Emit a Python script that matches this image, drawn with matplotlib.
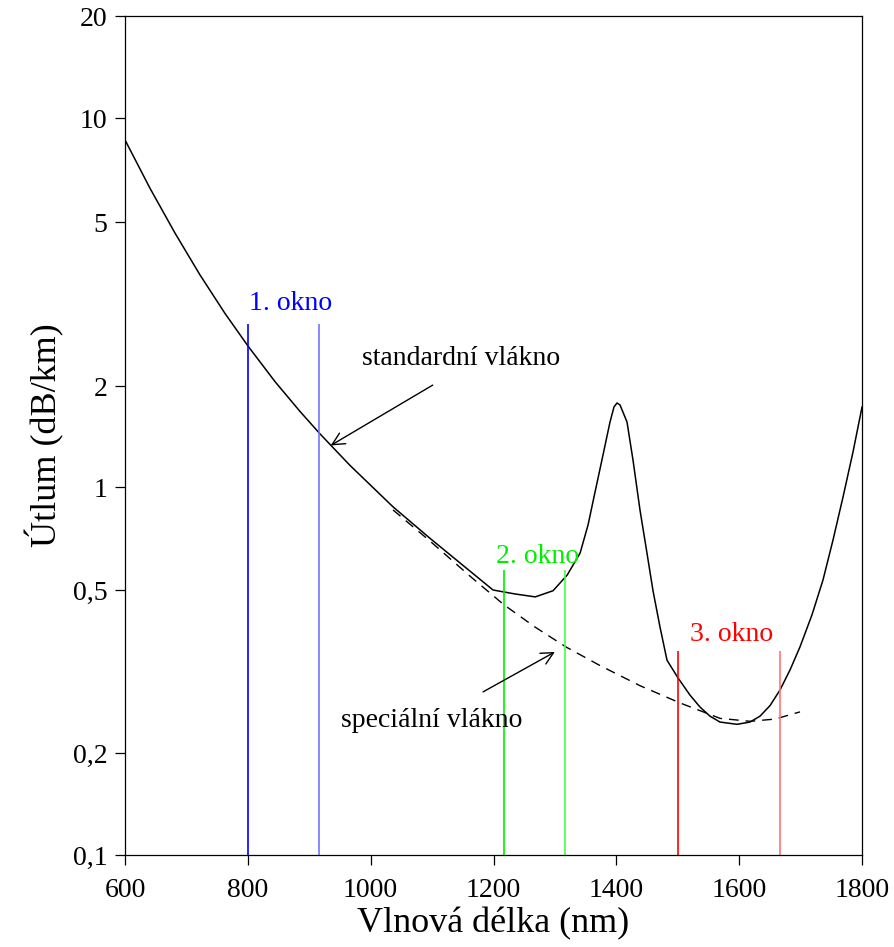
import numpy as np
import matplotlib
matplotlib.use("Agg")
import matplotlib.pyplot as plt
from matplotlib.ticker import FixedLocator, FixedFormatter, NullLocator

plt.rcParams['font.family'] = ['Liberation Serif', 'DejaVu Serif']

# ---- data ----
std_nm = [600, 640.7, 681.4, 722.1, 762.8, 800.3, 844.2, 884.9, 917.5, 966.3,
          1036.4, 1096.6, 1199.2, 1235, 1268, 1297, 1320, 1341, 1353.9, 1365.3,
          1378.3, 1389.7, 1396.2, 1401.1, 1406, 1417.4, 1427.1, 1438.5, 1449.9,
          1459.7, 1471.1, 1482.5, 1500.4, 1519.9, 1536.2, 1552.5, 1568.8, 1596.5,
          1617.6, 1633.9, 1650.2, 1666.5, 1682.8, 1699.0, 1718.6, 1736.5, 1752.8,
          1769.1, 1785.3, 1800]
std_db = [8.64, 6.26, 4.70, 3.72, 3.00, 2.50, 2.05, 1.68, 1.44, 1.16,
          0.875, 0.708, 0.50, 0.489, 0.481, 0.498, 0.553, 0.641, 0.774, 0.966,
          1.246, 1.562, 1.732, 1.780, 1.756, 1.562, 1.204, 0.857, 0.641,
          0.498, 0.406, 0.337, 0.305, 0.277, 0.259, 0.246, 0.238, 0.235,
          0.238, 0.246, 0.261, 0.285, 0.319, 0.363, 0.435, 0.535, 0.700,
          0.935, 1.27, 1.73]

spec_nm = [1036.4, 1096.6, 1161.7, 1217.1, 1267.6, 1318, 1373.4, 1438.5,
           1503.7, 1568.8, 1617.6, 1658.3, 1699]
spec_db = [0.857, 0.695, 0.549, 0.460, 0.406, 0.363, 0.327, 0.292,
           0.265, 0.243, 0.239, 0.242, 0.252]

window_nm = [800, 916, 1217, 1317, 1500, 1667]
window_top = [2.83, 2.83, 0.572, 0.572, 0.355, 0.355]
window_colors = ['#0000ff', '#7474ff', '#00f000', '#44ff44', '#ff0000', '#ff7474']
window_labels = ['1. okno', '2. okno', '3. okno']
window_label_nm = [870, 1271, 1587]
window_label_db = [3.05, 0.60, 0.375]
window_label_colors = ['#0000ff', '#00ee00', '#ff0000']

x_ticks = [600, 800, 1000, 1200, 1400, 1600, 1800]
y_ticks = [0.1, 0.2, 0.5, 1, 2, 5, 10, 20]
y_tick_labels = ['0,1', '0,2', '0,5', '1', '2', '5', '10', '20']

# ---- scale: tick marks placed as in the original drawing ----
ref_log = np.log10([0.01, 0.1, 0.2, 0.5, 1, 2, 5, 10, 20, 200])
ref_pos = np.array([-368, 0, 102, 265, 368, 469, 633, 737, 839, 1208], float)

def fwd(v):
    v = np.asarray(v, float)
    lv = np.log10(np.clip(v, 1e-6, None))
    return np.interp(lv, ref_log, ref_pos)

def inv(p):
    p = np.asarray(p, float)
    return 10 ** np.interp(p, ref_pos, ref_log)

fig = plt.figure(figsize=(8.95, 9.47), dpi=100)
ax = fig.add_axes([125 / 895, 92 / 947, 737 / 895, 839 / 947])
ax.set_yscale('function', functions=(fwd, inv))

ax.plot(std_nm, std_db, color='black', lw=1.1, solid_joinstyle='round')
ax.plot(spec_nm, spec_db, color='black', lw=1.0, dashes=(7, 5))

ax.vlines(window_nm, 0.1, window_top, colors=window_colors, lw=1.2)
for lab, xn, yd, c in zip(window_labels, window_label_nm, window_label_db, window_label_colors):
    ax.text(xn, yd, lab, color=c, fontsize=20, ha='center', va='baseline')

ax.annotate('', xy=(935, 1.33), xytext=(1101, 2.01),
            arrowprops=dict(arrowstyle='->', color='black', lw=1.0,
                            mutation_scale=22, shrinkA=0, shrinkB=0))
ax.annotate('', xy=(1300, 0.353), xytext=(1183, 0.282),
            arrowprops=dict(arrowstyle='->', color='black', lw=1.0,
                            mutation_scale=22, shrinkA=0, shrinkB=0))
ax.text(986, 2.25, 'standardní vlákno', fontsize=20, ha='left', va='baseline')
ax.text(951, 0.232, 'speciální vlákno', fontsize=20, ha='left', va='baseline')

ax.set_xlim(600, 1800)
ax.set_ylim(0.1, 20)
ax.xaxis.set_major_locator(FixedLocator(x_ticks))
ax.yaxis.set_major_locator(FixedLocator(y_ticks))
ax.yaxis.set_major_formatter(FixedFormatter(y_tick_labels))
ax.yaxis.set_minor_locator(NullLocator())
ax.xaxis.set_minor_locator(NullLocator())
ax.tick_params(direction='out', length=7.5, width=0.9, labelsize=20)
ax.tick_params(axis='x', pad=9)
ax.tick_params(axis='y', pad=5)
for s in ax.spines.values():
    s.set_linewidth(0.9)

ax.set_xlabel('Vlnová délka (nm)', fontsize=26, labelpad=3)
ax.set_ylabel('Útlum (dB/km)', fontsize=26, labelpad=6)

fig.savefig('out.png', dpi=100)
